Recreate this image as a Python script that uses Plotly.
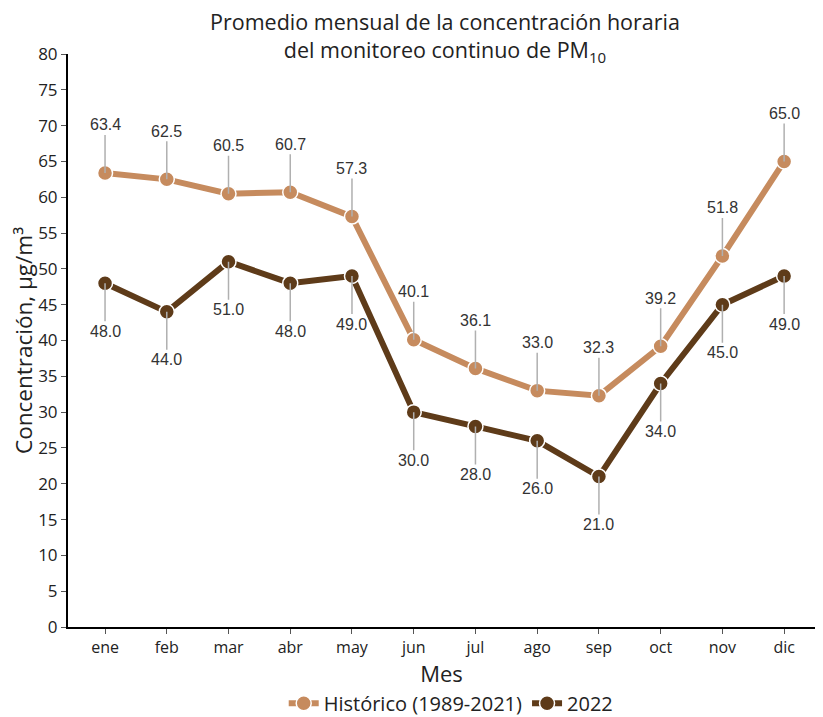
import plotly.graph_objects as go

meses = ['ene', 'feb', 'mar', 'abr', 'may', 'jun', 'jul', 'ago', 'sep', 'oct', 'nov', 'dic']
historico = [63.4, 62.5, 60.5, 60.7, 57.3, 40.1, 36.1, 33.0, 32.3, 39.2, 51.8, 65.0]
anio_2022 = [48.0, 44.0, 51.0, 48.0, 49.0, 30.0, 28.0, 26.0, 21.0, 34.0, 45.0, 49.0]

c_hist = '#C68B5E'
c_2022 = '#5E3B19'

fig = go.Figure()

fig.add_trace(
    go.Scatter(
        x=list(range(12)),
        y=historico,
        mode='lines+markers',
        name='Histórico (1989-2021)',
        line=dict(color=c_hist, width=6),
        marker=dict(size=15, color=c_hist, line=dict(color='white', width=1.5))
    )
)
fig.add_trace(
    go.Scatter(
        x=list(range(12)),
        y=anio_2022,
        mode='lines+markers',
        name='2022',
        line=dict(color=c_2022, width=6),
        marker=dict(size=15, color=c_2022, line=dict(color='white', width=1.5))
    )
)

# etiquetas con linea guia
for i, v in enumerate(historico):
    fig.add_annotation(x=i, y=v, text=f'{v:.1f}', showarrow=True, arrowhead=0,
                       arrowwidth=1.5, arrowcolor='#B0B0B0', ax=0, ay=-48,
                       font=dict(family='Liberation Sans', size=16, color='#333'))
for i, v in enumerate(anio_2022):
    fig.add_annotation(x=i, y=v, text=f'{v:.1f}', showarrow=True, arrowhead=0,
                       arrowwidth=1.5, arrowcolor='#B0B0B0', ax=0, ay=48,
                       font=dict(family='Liberation Sans', size=16, color='#333'))

fig.update_layout(
    width=823, height=717,
    template='plotly_white',
    plot_bgcolor='white', paper_bgcolor='white',
    margin=dict(l=60, r=16, t=46, b=98, autoexpand=False),
    font=dict(family='Open Sans', color='#222'),
    title=dict(text='Promedio mensual de la concentración horaria<br>del monitoreo continuo de PM<sub>10</sub>',
               x=0.531, xanchor='center', y=0.969, yanchor='middle',
               font=dict(family='Open Sans', size=21.5, color='#222')),
    xaxis=dict(
        range=[-0.6, 11.5], automargin=False,
        tickmode='array', tickvals=list(range(12)), ticktext=meses,
        showgrid=False, zeroline=False,
        showline=True, linecolor='black', linewidth=2,
        ticks='outside', ticklen=5, tickcolor='#555',
        tickfont=dict(size=16),
        title=dict(text='Mes', font=dict(size=22), standoff=6)
    ),
    yaxis=dict(
        range=[0, 80], dtick=5, automargin=False,
        showgrid=False, zeroline=False,
        showline=True, linecolor='black', linewidth=2,
        ticks='outside', ticklen=5, tickcolor='#555',
        tickfont=dict(size=17),
        title=dict(text='Concentración, µg/m³', font=dict(size=22.5), standoff=7)
    ),
    legend=dict(orientation='h', x=0.513, xanchor='center', y=-0.133, yanchor='middle',
                font=dict(size=20), itemwidth=30),
    showlegend=True
)

fig.write_html("out.html")
